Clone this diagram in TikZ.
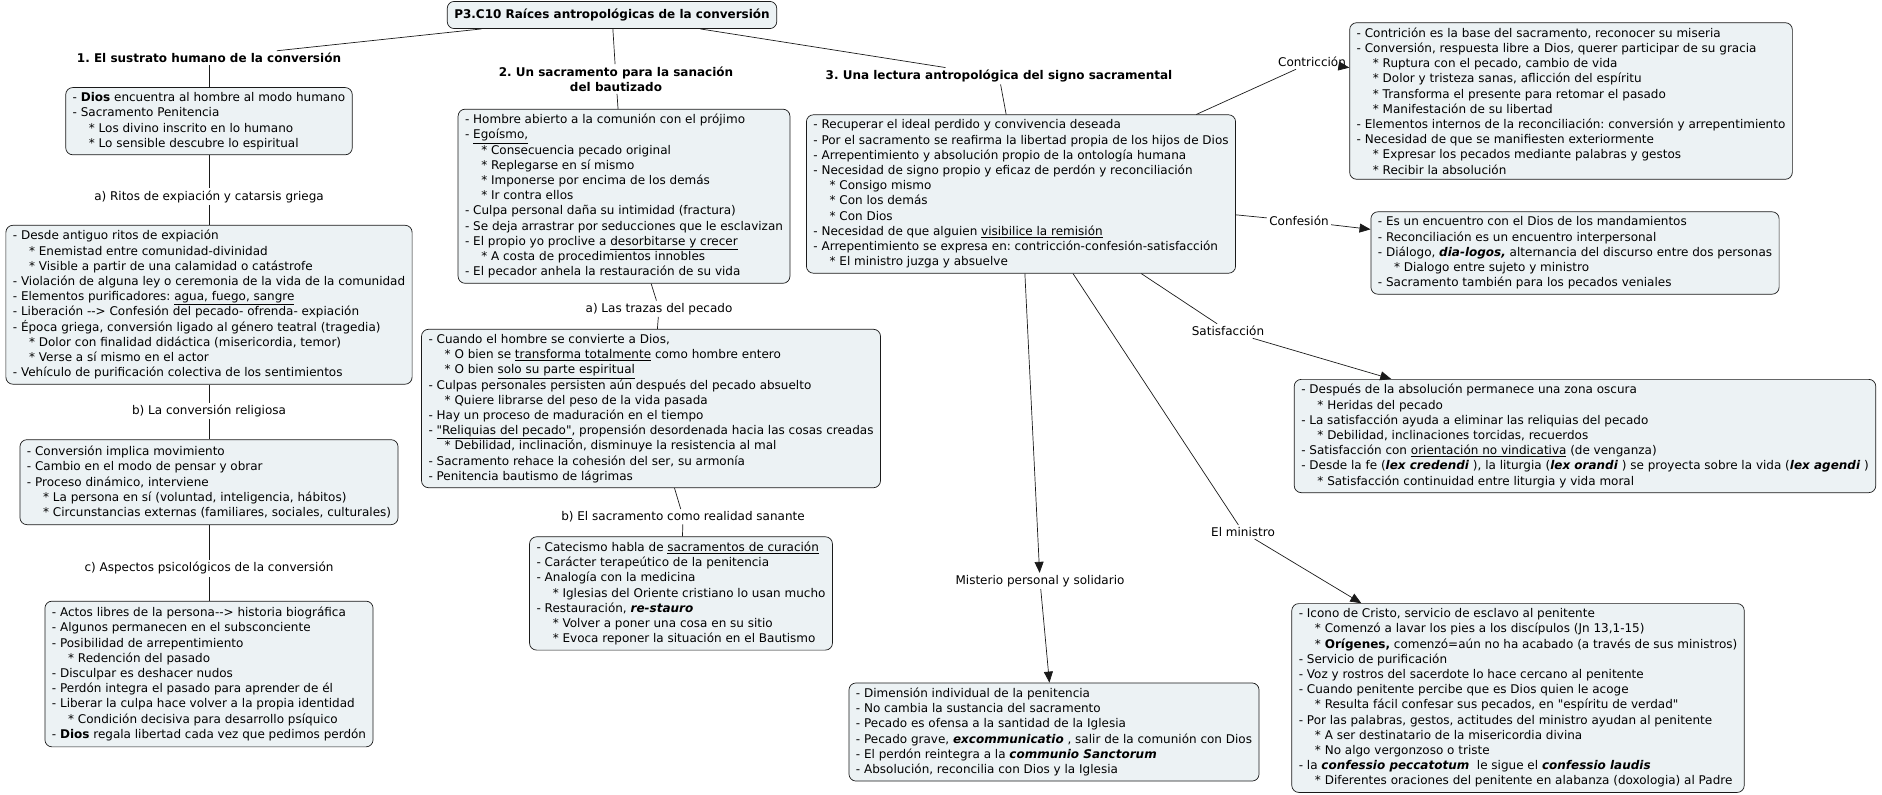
\documentclass[tikz,border=0pt]{standalone}
\usepackage{fontspec}
\setmainfont{DejaVu Sans}
\usetikzlibrary{positioning, arrows.meta}
\definecolor{conceptfill}{HTML}{ECF2F4}
\definecolor{edge}{HTML}{1A1A1A}
\newcommand{\substar}{\hspace*{1.35em}* }
\frenchspacing

\begin{document}
\begin{tikzpicture}[
    x=1pt, y=-1pt,
    >={Triangle[length=11pt,width=9pt]},
    line width=0.7pt,
    draw=edge,
    font=\fontsize{12pt}{15.2pt}\selectfont,
    concept/.style={
        draw=edge,
        rounded corners=7pt,
        fill=conceptfill,
        align=left,
        inner xsep=7pt,
        inner ysep=5pt
    },
    root/.style={concept, align=center, inner ysep=7.5pt,
        font=\fontsize{12pt}{15.2pt}\selectfont\bfseries},
    heading/.style={align=center, inner sep=2pt,
        font=\fontsize{12pt}{15.2pt}\selectfont\bfseries},
    linkword/.style={inner sep=2pt}
]
\useasboundingbox (0,0) rectangle (1882,795);

\node[root] (title) at (612,15) {P3.C10 Raíces antropológicas de la conversión};

% 1. left column
\node[heading] (h1) at (209,58) {1. El sustrato humano de la conversión};
\node[concept, below=22pt of h1] (L1) {- \textbf{Dios} encuentra al hombre al modo humano\\- Sacramento Penitencia\\\substar Los divino inscrito en lo humano\\\substar Lo sensible descubre lo espiritual};
\node[linkword, below=33pt of L1] (la) {a) Ritos de expiación y catarsis griega};
\node[concept, below=20pt of la] (L2) {- Desde antiguo ritos de expiación\\\substar Enemistad entre comunidad-divinidad\\\substar Visible a partir de una calamidad o catástrofe\\- Violación de alguna ley o ceremonia de la vida de la comunidad\\- Elementos purificadores: \underline{agua, fuego, sangre}\\- Liberación -{}-{}> Confesión del pecado- ofrenda- expiación\\- Época griega, conversión ligado al género teatral (tragedia)\\\substar Dolor con finalidad didáctica (misericordia, temor)\\\substar Verse a sí mismo en el actor\\- Vehículo de purificación colectiva de los sentimientos};
\node[linkword, below=18pt of L2] (lb) {b) La conversión religiosa};
\node[concept, below=20pt of lb, inner ysep=6.5pt] (L3) {- Conversión implica movimiento\\- Cambio en el modo de pensar y obrar\\- Proceso dinámico, interviene\\\substar La persona en sí (voluntad, inteligencia, hábitos)\\\substar Circunstancias externas (familiares, sociales, culturales)};
\node[linkword, below=35pt of L3] (lc) {c) Aspectos psicológicos de la conversión};
\node[concept, below=24pt of lc, inner ysep=6pt] (L4) {- Actos libres de la persona-{}-{}> historia biográfica\\- Algunos permanecen en el subsconciente\\- Posibilidad de arrepentimiento\\\substar Redención del pasado\\- Disculpar es deshacer nudos\\- Perdón integra el pasado para aprender de él\\- Liberar la culpa hace volver a la propia identidad\\\substar Condición decisiva para desarrollo psíquico\\- \textbf{Dios} regala libertad cada vez que pedimos perdón};

% 2. middle column
\node[heading] (h2) at (616,79) {2. Un sacramento para la sanación\\del bautizado};
\node[concept, below=15pt of h2, xshift=8pt] (M1) {- Hombre abierto a la comunión con el prójimo\\- \underline{Egoísmo,}\\\substar Consecuencia pecado original\\\substar Replegarse en sí mismo\\\substar Imponerse por encima de los demás\\\substar Ir contra ellos\\- Culpa personal daña su intimidad (fractura)\\- Se deja arrastrar por seducciones que le esclavizan\\- El propio yo proclive a \underline{desorbitarse y crecer}\\\substar A costa de procedimientos innobles\\- El pecador anhela la restauración de su vida};
\node[linkword, below=17pt of M1, xshift=35pt] (ma) {a) Las trazas del pecado};
\node[concept, below=12pt of ma, xshift=-8pt] (M2) {- Cuando el hombre se convierte a Dios,\\\substar O bien se \underline{transforma totalmente} como hombre entero\\\substar O bien \underline{solo su parte espiritual}\\- Culpas personales persisten aún después del pecado absuelto\\\substar Quiere librarse del peso de la vida pasada\\- Hay un proceso de maduración en el tiempo\\- \underline{\textquotedbl Reliquias del pecado\textquotedbl}, propensión desordenada hacia las cosas creadas\\\substar Debilidad, inclinación, disminuye la resistencia al mal\\- Sacramento rehace la cohesión del ser, su armonía\\- Penitencia bautismo de lágrimas};
\node[linkword, below=21pt of M2, xshift=32pt] (mb) {b) El sacramento como realidad sanante};
\node[concept, below=12pt of mb, xshift=-2pt] (M3) {- Catecismo habla de \underline{sacramentos de curación}\\- Carácter terapeútico de la penitencia\\- Analogía con la medicina\\\substar Iglesias del Oriente cristiano lo usan mucho\\- Restauración, \textbf{\textit{re-stauro}}\\\substar Volver a poner una cosa en su sitio\\\substar Evoca reponer la situación en el Bautismo};

% 3. right part
\node[heading] (h3) at (999,76) {3. Una lectura antropológica del signo sacramental};
\node[concept, below=30pt of h3, xshift=22pt] (R0) {- Recuperar el ideal perdido y convivencia deseada\\- Por el sacramento se reafirma la libertad propia de los hijos de Dios\\- Arrepentimiento y absolución propio de la ontología humana\\- Necesidad de signo propio y eficaz de perdón y reconciliación\\\substar Consigo mismo\\\substar Con los demás\\\substar Con Dios\\- Necesidad de que alguien \underline{visibilice la remisión}\\- Arrepentimiento se expresa en: contricción-confesión-satisfacción\\\substar El ministro juzga y absuelve};

\node[linkword] (lcon) at (1312,62) {Contricción};
\node[concept] (C1) at (1571,101) {- Contrición es la base del sacramento, reconocer su miseria\\- Conversión, respuesta libre a Dios, querer participar de su gracia\\\substar Ruptura con el pecado, cambio de vida\\\substar Dolor y tristeza sanas, aflicción del espíritu\\\substar Transforma el presente para retomar el pasado\\\substar Manifestación de su libertad\\- Elementos internos de la reconciliación: conversión y arrepentimiento\\- Necesidad de que se manifiesten exteriormente\\\substar Expresar los pecados mediante palabras y gestos\\\substar Recibir la absolución};

\node[linkword] (lconf) at (1299,221) {Confesión};
\node[concept] (C2) at (1575,253) {- Es un encuentro con el Dios de los mandamientos\\- Reconciliación es un encuentro interpersonal\\- Diálogo, \textbf{\textit{dia-logos,}} alternancia del discurso entre dos personas\\\substar Dialogo entre sujeto y ministro\\- Sacramento también para los pecados veniales};

\node[linkword] (lsat) at (1228,331) {Satisfacción};
\node[concept] (C3) at (1585,436) {- Después de la absolución permanece una zona oscura\\\substar Heridas del pecado\\- La satisfacción ayuda a eliminar las reliquias del pecado\\\substar Debilidad, inclinaciones torcidas, recuerdos\\- Satisfacción con \underline{orientación no vindicativa} (de venganza)\\- Desde la fe (\textbf{\textit{lex credendi}} ), la liturgia (\textbf{\textit{lex orandi}} ) se proyecta sobre la vida (\textbf{\textit{lex agendi}} )\\\substar Satisfacción continuidad entre liturgia y vida moral};

\node[linkword] (lmin) at (1243,532) {El ministro};
\node[concept] (C4) at (1518,698) {- Icono de Cristo, servicio de esclavo al penitente\\\substar Comenzó a lavar los pies a los discípulos (Jn 13,1-15)\\\substar \textbf{Orígenes,} comenzó=aún no ha acabado (a través de sus ministros)\\- Servicio de purificación\\- Voz y rostros del sacerdote lo hace cercano al penitente\\- Cuando penitente percibe que es Dios quien le acoge\\\substar Resulta fácil confesar sus pecados, en \textquotedbl espíritu de verdad\textquotedbl\\- Por las palabras, gestos, actitudes del ministro ayudan al penitente\\\substar A ser destinatario de la misericordia divina\\\substar No algo vergonzoso o triste\\- la \textbf{\textit{confessio peccatotum}}\ \ le sigue el \textbf{\textit{confessio laudis}}\\\substar Diferentes oraciones del penitente en alabanza (doxologia) al Padre};

\node[linkword] (lmis) at (1040,581) {Misterio personal y solidario};
\node[concept] (C5) at (1054,732) {- Dimensión individual de la penitencia\\- No cambia la sustancia del sacramento\\- Pecado es ofensa a la santidad de la Iglesia\\- Pecado grave, \textbf{\textit{excommunicatio}} , salir de la comunión con Dios\\- El perdón reintegra a la \textbf{\textit{communio Sanctorum}}\\- Absolución, reconcilia con Dios y la Iglesia};

% connectors
\draw (title) -- (h1);
\draw (title) -- (h2);
\draw (title) -- (h3);
\draw (h1) -- (L1);
\draw (L1) -- (la);
\draw (la) -- (L2);
\draw (L2) -- (lb);
\draw (lb) -- (L3);
\draw (L3) -- (lc);
\draw (lc) -- (L4);
\draw (h2) -- (M1);
\draw (M1) -- (ma);
\draw (ma) -- (M2);
\draw (M2) -- (mb);
\draw (mb) -- (M3);
\draw (h3) -- (R0);
\draw (R0) -- (lcon);
\draw[->] (lcon) -- (C1);
\draw (R0) -- (lconf);
\draw[->] (lconf) -- (C2);
\draw (R0) -- (lsat);
\draw[->] (lsat) -- (C3);
\draw (R0) -- (lmin);
\draw[->] (lmin) -- (C4);
\draw[->] (R0) -- (lmis);
\draw[->] (lmis) -- (C5);

\end{tikzpicture}
\end{document}
